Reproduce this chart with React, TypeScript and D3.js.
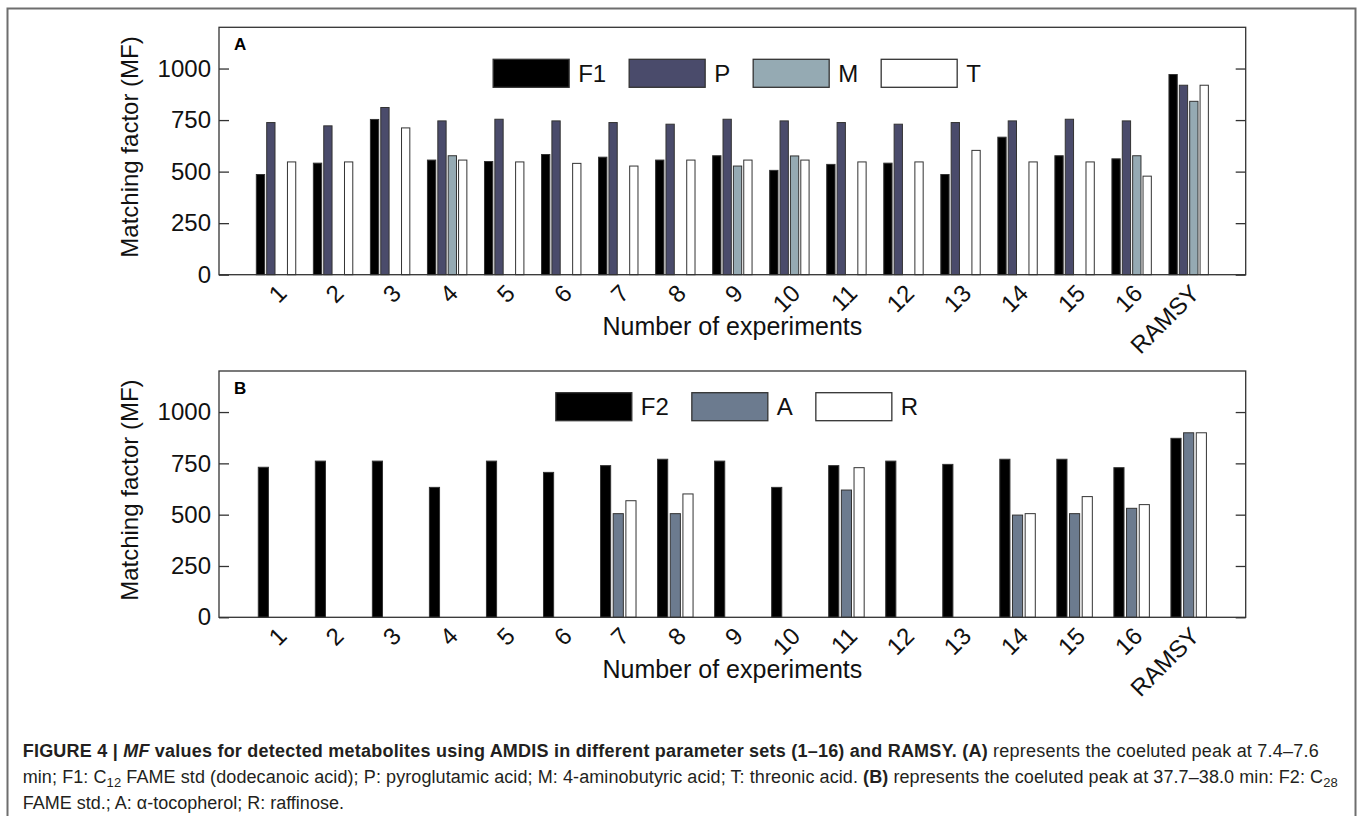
import React, { useEffect, useRef } from 'react';
import * as d3 from 'd3';

const experiments = ['1', '2', '3', '4', '5', '6', '7', '8', '9', '10', '11', '12', '13', '14', '15', '16', 'RAMSY'];

// panel A: coeluted peak at 7.4-7.6 min
const f1Values = [486, 541, 753, 556, 549, 583, 570, 556, 577, 506, 535, 541, 486, 667, 577, 562, 971];
const pValues = [738, 722, 811, 746, 754, 746, 738, 730, 754, 746, 738, 730, 738, 746, 754, 746, 919];
const mValues = [null, null, null, 577, null, null, null, null, 527, 576, null, null, null, null, null, 577, 841];
const tValues = [547, 547, 712, 556, 547, 540, 527, 556, 556, 556, 547, 547, 603, 547, 547, 478, 919];

// panel B: coeluted peak at 37.7-38.0 min
const f2Values = [731, 761, 761, 633, 761, 706, 739, 770, 761, 633, 739, 761, 745, 770, 770, 729, 872];
const aValues = [null, null, null, null, null, null, 505, 505, null, null, 620, null, null, 498, 505, 531, 899];
const rValues = [null, null, null, null, null, null, 568, 601, null, null, 729, null, null, 505, 588, 549, 899];

const yTicks = [0, 250, 500, 750, 1000];

const FONT = '"Liberation Sans", Arial, Helvetica, sans-serif';

type Series = { name: string; values: (number | null)[]; fill: string };

const panels = [
  {
    letter: 'A', top: 27.3, bottom: 274.7, legendTop: 59.3,
    series: [
      { name: 'F1', values: f1Values, fill: '#000000' },
      { name: 'P', values: pValues, fill: '#4a4b6b' },
      { name: 'M', values: mValues, fill: '#95aab3' },
      { name: 'T', values: tValues, fill: '#ffffff' },
    ] as Series[],
  },
  {
    letter: 'B', top: 371, bottom: 617.3, legendTop: 392.7,
    series: [
      { name: 'F2', values: f2Values, fill: '#000000' },
      { name: 'A', values: aValues, fill: '#6c7b8f' },
      { name: 'R', values: rValues, fill: '#ffffff' },
    ] as Series[],
  },
];

const left = 219, right = 1245.7;

export default function App() {
  const ref = useRef<SVGSVGElement>(null);

  useEffect(() => {
    const svg = d3.select(ref.current);
    svg.selectAll('*').remove();

    // outer figure frame
    svg.append('rect')
      .attr('x', 7.5).attr('y', 8.5).attr('width', 1348).attr('height', 830)
      .attr('fill', 'none').attr('stroke', '#6e6e6e').attr('stroke-width', 2);

    const x = d3.scaleLinear().domain([0, experiments.length + 1]).range([left, right]);
    const step = x(1) - x(0);

    panels.forEach((p) => {
      const g = svg.append('g').attr('font-family', FONT);
      const y = d3.scaleLinear().domain([0, 1200]).range([p.bottom, p.top]);
      const n = p.series.length;
      const gw = step * Math.min(0.8, n / (n + 1.5));
      const inner = d3.scaleBand<string>()
        .domain(p.series.map((s) => s.name))
        .range([-gw / 2, gw / 2])
        .paddingInner(0.2).paddingOuter(0.1);

      // bars
      p.series.forEach((s) => {
        const pts = s.values.map((v, i) => ({ v, i })).filter((d) => d.v != null) as { v: number; i: number }[];
        g.selectAll(null).data(pts).join('rect')
          .attr('x', (d) => x(d.i + 1) + (inner(s.name) as number))
          .attr('y', (d) => y(d.v))
          .attr('width', inner.bandwidth())
          .attr('height', (d) => y(0) - y(d.v))
          .attr('fill', s.fill)
          .attr('stroke', '#333')
          .attr('stroke-width', 1);
      });

      // box
      g.append('rect')
        .attr('x', left).attr('y', p.top).attr('width', right - left).attr('height', p.bottom - p.top)
        .attr('fill', 'none').attr('stroke', '#333').attr('stroke-width', 1.3);

      const yl = g.append('g').attr('transform', `translate(${left},0)`)
        .call(d3.axisLeft(y).tickValues(yTicks).tickSize(-10).tickPadding(8).tickFormat(d3.format('d')));
      yl.select('.domain').remove();
      yl.selectAll('line').attr('stroke', '#333').attr('stroke-width', 1.3);
      yl.selectAll('text').attr('font-size', 24).attr('font-family', FONT).attr('fill', '#111');

      const yr = g.append('g').attr('transform', `translate(${right},0)`)
        .call(d3.axisRight(y).tickValues(yTicks).tickSize(-10).tickFormat(() => ''));
      yr.select('.domain').remove();
      yr.selectAll('line').attr('stroke', '#333').attr('stroke-width', 1.3);

      // x tick labels, rotated
      g.selectAll(null).data(experiments).join('text')
        .attr('transform', (d, i) => `translate(${x(i + 1)},${p.bottom + 8}) rotate(-45)`)
        .attr('text-anchor', 'end')
        .attr('dy', '0.72em')
        .attr('font-size', 24)
        .attr('fill', '#111')
        .text((d) => d);

      g.append('text')
        .attr('x', (left + right) / 2).attr('y', p.bottom + 60.5)
        .attr('text-anchor', 'middle').attr('font-size', 25).attr('fill', '#111')
        .text('Number of experiments');

      g.append('text')
        .attr('transform', `translate(138,${(p.top + p.bottom) / 2 - 4}) rotate(-90)`)
        .attr('text-anchor', 'middle').attr('font-size', 24).attr('fill', '#111')
        .text('Matching factor (MF)');

      g.append('text')
        .attr('x', 234).attr('y', p.top + 22.5)
        .attr('font-size', 17).attr('font-weight', 'bold').attr('fill', '#000')
        .text(p.letter);

      // legend
      const lg = g.append('g');
      let cx = 0;
      p.series.forEach((s) => {
        const item = lg.append('g').attr('transform', `translate(${cx},0)`);
        item.append('rect')
          .attr('x', 0).attr('y', p.legendTop).attr('width', 76).attr('height', 28)
          .attr('fill', s.fill).attr('stroke', '#333').attr('stroke-width', 1.3);
        const t = item.append('text')
          .attr('x', 85).attr('y', p.legendTop + 14 + 8.6)
          .attr('font-size', 24).attr('fill', '#111')
          .text(s.name);
        const tw = (t.node() as SVGTextElement).getComputedTextLength();
        cx += 85 + tw + 23;
      });
      const total = cx - 23;
      lg.attr('transform', `translate(${737 - total / 2},0)`);
    });

    // caption
    const cap = svg.append('g').attr('font-family', FONT).attr('font-size', 18).attr('fill', '#231f20');
    const l1 = cap.append('text').attr('x', 22.7).attr('y', 756.7)
      .attr('textLength', 1296).attr('lengthAdjust', 'spacing');
    l1.append('tspan').attr('font-weight', 'bold').text('FIGURE 4 | ');
    l1.append('tspan').attr('font-weight', 'bold').attr('font-style', 'italic').text('MF');
    l1.append('tspan').attr('font-weight', 'bold').text(' values for detected metabolites using AMDIS in different parameter sets (1–16) and RAMSY. (A)');
    l1.append('tspan').text(' represents the coeluted peak at 7.4–7.6');

    const l2 = cap.append('text').attr('x', 22.7).attr('y', 783)
      .attr('textLength', 1315).attr('lengthAdjust', 'spacing');
    l2.append('tspan').text('min; F1: C');
    l2.append('tspan').attr('font-size', 13).attr('dy', 4).text('12');
    l2.append('tspan').attr('dy', -4).text(' FAME std (dodecanoic acid); P: pyroglutamic acid; M: 4-aminobutyric acid; T: threonic acid. ');
    l2.append('tspan').attr('font-weight', 'bold').text('(B)');
    l2.append('tspan').text(' represents the coeluted peak at 37.7–38.0 min: F2: C');
    l2.append('tspan').attr('font-size', 13).attr('dy', 4).text('28');

    cap.append('text').attr('x', 22.7).attr('y', 809)
      .text('FAME std.; A: α-tocopherol; R: raffinose.');
  }, []);

  return (
    <svg ref={ref} width={1360} height={816}
      style={{ position: 'absolute', left: 0, top: 0, background: '#fff' }} />
  );
}
